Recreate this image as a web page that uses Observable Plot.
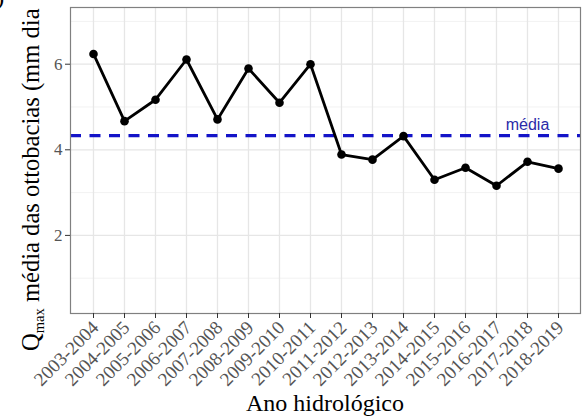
<!DOCTYPE html>
<html>
<head>
<meta charset="utf-8">
<script src="https://cdn.jsdelivr.net/npm/d3@7"></script>
<script src="https://cdn.jsdelivr.net/npm/@observablehq/plot@0.6"></script>
<style>
  html, body { margin: 0; padding: 0; background: #fff; }
  #chart { width: 584px; height: 419px; overflow: hidden; }
</style>
</head>
<body>
<div id="chart"></div>
<script>
const years = ["2003-2004","2004-2005","2005-2006","2006-2007","2007-2008","2008-2009","2009-2010","2010-2011",
  "2011-2012","2012-2013","2013-2014","2014-2015","2015-2016","2016-2017","2017-2018","2018-2019"];
const qmax = [6.24, 4.67, 5.17, 6.11, 4.71, 5.90, 5.10, 6.00, 3.89, 3.77, 4.32, 3.30, 3.58, 3.16, 3.72, 3.56];
const meanValue = 4.33;
const meanLabel = "média";
const yMajor = [2, 4, 6];
const yMinor = [1, 3, 5, 7];
const xTitle = "Ano hidrológico";
const yTitleMain = "Q";
const yTitleSub = "max";
const yTitleRest = " média das ottobacias (mm dia";
const panelTag = "l)";

const data = years.map((y, i) => ({year: y, q: qmax[i]}));
const serif = "'Liberation Serif', 'Times New Roman', serif";

const plot = Plot.plot({
  width: 584,
  height: 419,
  marginLeft: 70,
  marginRight: 4,
  marginTop: 7,
  marginBottom: 106,
  style: {fontFamily: serif, background: "#fff", overflow: "visible"},
  x: {type: "point", domain: years, padding: 0.6, label: null},
  y: {domain: [0.175, 7.325], label: null},
  marks: [
    Plot.gridY(yMinor, {stroke: "#ececec", strokeWidth: 0.7, strokeOpacity: 1}),
    Plot.gridY(yMajor, {stroke: "#e6e6e6", strokeWidth: 1.3, strokeOpacity: 1}),
    Plot.gridX(years, {stroke: "#e6e6e6", strokeWidth: 1.3, strokeOpacity: 1}),
    Plot.ruleY([meanValue], {stroke: "#1414c8", strokeWidth: 3.2, strokeDasharray: "11,8.5"}),
    Plot.line(data, {x: "year", y: "q", stroke: "#000", strokeWidth: 2.8}),
    Plot.dot(data, {x: "year", y: "q", fill: "#000", r: 4.3}),
    Plot.text([meanLabel], {x: () => years[14], y: () => meanValue, text: d => d, dy: -11,
      fill: "#2a2aa8", fontSize: 16, fontFamily: "'Liberation Sans', Arial, sans-serif"}),
    Plot.frame({stroke: "#808080", strokeWidth: 1.2}),
    Plot.axisY(yMajor, {tickSize: 5, tickPadding: 3, fontSize: 17, stroke: "#333", fill: "#555", label: null}),
    Plot.axisX(years, {tickSize: 5, stroke: "#333", tickFormat: () => "", label: null}),
    Plot.axisX(years, {tickSize: 0, tickPadding: 7, tickRotate: -45, fontSize: 19, fill: "#555", label: null, dx: 2, dy: 4})
  ]
});

document.getElementById("chart").appendChild(plot);
const svg = d3.select(plot);

svg.append("text")
  .attr("x", 325).attr("y", 411)
  .attr("text-anchor", "middle")
  .attr("font-family", serif).attr("font-size", 24).attr("fill", "#000")
  .text(xTitle);

const yt = svg.append("text")
  .attr("transform", "translate(39,351) rotate(-90)")
  .attr("text-anchor", "start")
  .attr("font-family", serif).attr("font-size", 24.6).attr("fill", "#000");
yt.append("tspan").text(yTitleMain);
yt.append("tspan").attr("font-size", 14.5).attr("dy", 5).text(yTitleSub);
yt.append("tspan").attr("dy", -5).text(yTitleRest);

svg.append("text")
  .attr("x", -3).attr("y", 5)
  .attr("font-family", serif).attr("font-size", 24).attr("fill", "#000")
  .text(panelTag);
</script>
</body>
</html>
